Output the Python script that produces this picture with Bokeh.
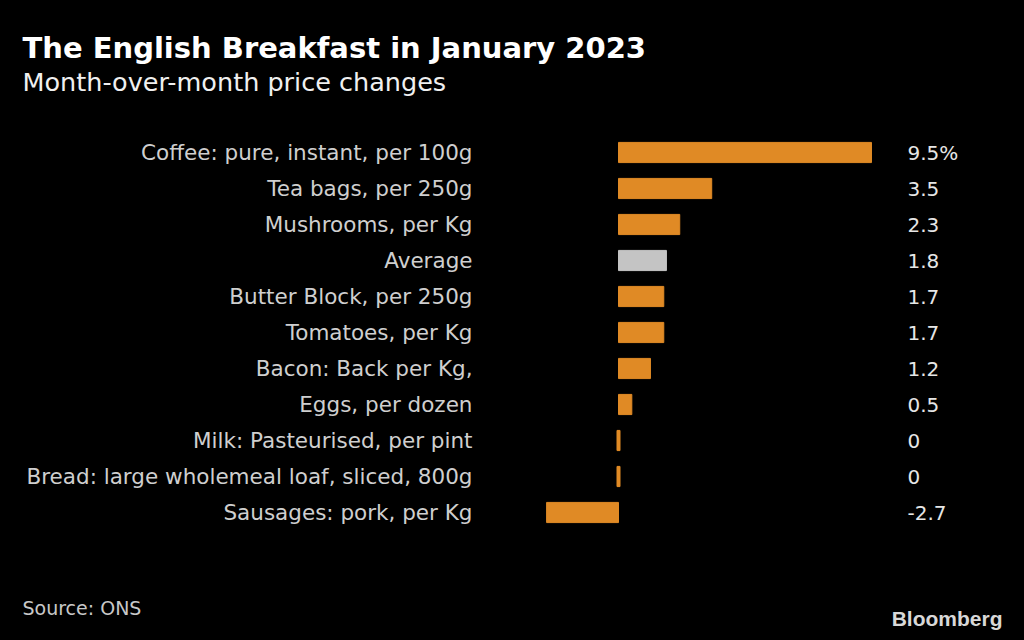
from bokeh.plotting import figure
from bokeh.models import Range1d, Label, ColumnDataSource
from bokeh.embed import file_html
from bokeh.resources import INLINE
from bokeh.core.properties import value

categories = [
    "Coffee: pure, instant, per 100g",
    "Tea bags, per 250g",
    "Mushrooms, per Kg",
    "Average",
    "Butter Block, per 250g",
    "Tomatoes, per Kg",
    "Bacon: Back per Kg,",
    "Eggs, per dozen",
    "Milk: Pasteurised, per pint",
    "Bread: large wholemeal loaf, sliced, 800g",
    "Sausages: pork, per Kg",
]
values = [9.5, 3.5, 2.3, 1.8, 1.7, 1.7, 1.2, 0.5, 0.0, 0.0, -2.7]
value_labels = ["9.5%", "3.5", "2.3", "1.8", "1.7", "1.7", "1.2", "0.5", "0", "0", "-2.7"]

ORANGE = "#E08A25"
GRAY = "#C4C4C4"
FONT = "DejaVu Sans"

W, H = 1024, 640
K = 26.63          # px per percentage point
ZERO_X = 618       # zero line position on the canvas
ROW0 = 152         # centre of first row on canvas
PITCH = 36

rows = list(range(len(categories)))
colors = [GRAY if c == "Average" else ORANGE for c in categories]
src = ColumnDataSource(dict(
    y=rows,
    cat=categories,
    left=[min(0, v) for v in values],
    right=[max(0, v) for v in values],
    color=colors,
    lab=value_labels,
))
zero_rows = [i for i, v in zip(rows, values) if v == 0]
zsrc = ColumnDataSource(dict(y=zero_rows, x=[0.0] * len(zero_rows)))

p = figure(width=W, height=H, output_backend="svg", toolbar_location=None,
           x_range=Range1d(-ZERO_X / K, (W - ZERO_X) / K),
           y_range=Range1d((H - ROW0) / PITCH, -ROW0 / PITCH),
           min_border=0, background_fill_color="black", border_fill_color="black",
           outline_line_color=None)
p.axis.visible = False
p.grid.visible = False

p.hbar(y="y", left="left", right="right", height=0.56, color="color", source=src)
p.rect(x="x", y="y", width=3, width_units="screen", height=0.56, color=ORANGE, source=zsrc)

# category labels
p.text(x=(472 - ZERO_X) / K, y="y", text="cat", source=src, text_align="right",
       text_baseline="middle", text_font=value(FONT), text_font_size="21.5px",
       text_color="#CFCFCF")
# value labels
p.text(x=(907 - ZERO_X) / K, y="y", text="lab", source=src, text_align="left",
       text_baseline="middle", text_font=value(FONT), text_font_size="20px",
       text_color="#E6E6E6")

def lab(txt, x, y, size, style="normal", color="white", font=FONT, align="left"):
    p.add_layout(Label(x=x, y=H - y, x_units="screen", y_units="screen",
                       text=txt, text_font=font, text_font_size=size,
                       text_font_style=style, text_color=color, text_align=align,
                       text_baseline="alphabetic"))

lab("The English Breakfast in January 2023", 22, 47, "29px", style="bold")
lab("Month-over-month price changes", 22, 81, "25.5px", color="#F0F0F0")
lab("Source: ONS", 22, 607, "19px", color="#C8C8C8")
lab("Bloomberg", 1002, 618, "21px", style="bold", color="#D8D8D8",
    font="Liberation Sans", align="right")

template = """{% block preamble %}<style>html,body{background:#000;}</style>{% endblock %}"""
open("out.html", "w").write(file_html(p, INLINE, template=template))
